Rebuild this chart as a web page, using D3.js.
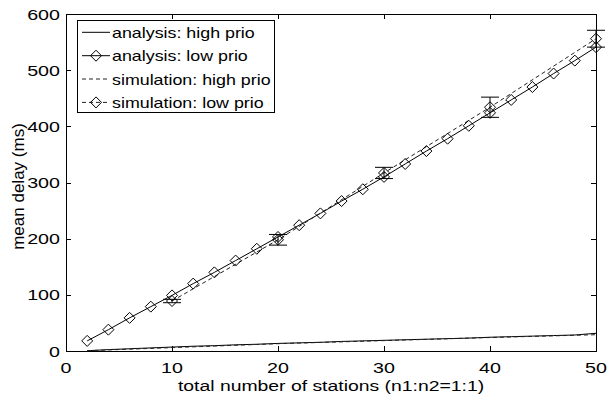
<!DOCTYPE html>
<html><head><meta charset="utf-8">
<script src="https://cdn.jsdelivr.net/npm/d3@7"></script>
<style>body{margin:0;background:#fff}svg{display:block}text{font-family:"Liberation Sans",Arial,sans-serif;fill:#000}</style>
</head><body>
<svg id="c" width="607" height="395"></svg>
<script>
// ---- data ----
const anaLowX = [2,4,6,8,10,12,14,16,18,20,22,24,26,28,30,32,34,36,38,40,42,44,46,48,50];
const anaLowY = [18,38,59,79,99,120,140,161,182,203,224,245,267,288,310,333,356,378,401,424,447,470,494,517,541];
const anaHighX = [2,4,6,8,10,12,14,16,18,20,22,24,26,28,30,32,34,36,38,40,42,44,46,48,50];
const anaHighY = [0.5,2.5,4,5.5,7,8.5,9.5,11,12,13.5,14.5,15.5,17,18,19,20,21,22,23,24.5,25.5,26.5,27.5,28.5,31.5];
const simHighX = [2,10,20,30,40,50];
const simHighY = [0.5,6,13,18.5,24,29];
const simLowX = [10,20,30,40,50];
const simLowY = [89,198,317,434,556];
const simLowErr = [3,9.5,10,18,15];
const xTicks = [0,10,20,30,40,50];
const yTicks = [0,100,200,300,400,500,600];
const legendLabels = ["analysis: high prio","analysis: low prio","simulation: high prio","simulation: low prio"];
const xLabel = "total number of stations (n1:n2=1:1)";
const yLabel = "mean delay (ms)";

(function(){
// ---- layout ----
const L=66,R=596,T=14,B=351;
const svg=d3.select("#c");
const x=d3.scaleLinear().domain([0,50]).range([L,R]);
const y=d3.scaleLinear().domain([0,600]).range([B,T]);
const SX=1.27;

function txt(g,px,py,s,size,anchor,sx){
  return g.append("text").attr("transform",`translate(${px},${py}) scale(${sx},1)`)
   .attr("text-anchor",anchor).style("font-size",size+"px").text(s);
}

// axes with inward ticks
svg.append("g").attr("transform",`translate(0,${B})`)
  .call(d3.axisBottom(x).tickValues(xTicks).tickSize(-5).tickFormat(""));
svg.append("g").attr("transform",`translate(0,${T})`)
  .call(d3.axisTop(x).tickValues(xTicks).tickSize(-5).tickFormat(""));
svg.append("g").attr("transform",`translate(${L},0)`)
  .call(d3.axisLeft(y).tickValues(yTicks).tickSize(-5).tickFormat(""));
svg.append("g").attr("transform",`translate(${R},0)`)
  .call(d3.axisRight(y).tickValues(yTicks).tickSize(-5).tickFormat(""));
svg.selectAll(".domain").remove();
svg.selectAll(".tick line").attr("stroke","#000").attr("shape-rendering","crispEdges");
svg.append("rect").attr("x",L).attr("y",T).attr("width",R-L).attr("height",B-T)
  .attr("fill","none").attr("stroke","#000").attr("shape-rendering","crispEdges");

const tl=svg.append("g");
xTicks.forEach(v=>txt(tl,x(v),372.5,String(v),15.5,"middle",SX));
yTicks.forEach(v=>txt(tl,60,y(v)+5.5,String(v),15.5,"end",SX));
txt(tl,331,390.5,xLabel,15.5,"middle",1.25);
svg.append("text").attr("transform",`translate(24,${(T+B)/2+4}) rotate(-90)`)
  .attr("text-anchor","middle").style("font-size","17px").text(yLabel);

// lines
const line=d3.line().x(d=>x(d[0])).y(d=>y(d[1]));
const plot=svg.append("g");
function series(xs,ys,dash){
  plot.append("path").datum(xs.map((v,i)=>[v,ys[i]])).attr("d",line)
   .attr("fill","none").attr("stroke",dash?"#222":"#000").attr("stroke-width",1)
   .attr("stroke-dasharray",dash?"4,3":null);
}
function diamond(g,cx,cy){
  const h=5.5;
  g.append("path").attr("d",`M${cx},${cy-h}L${cx+h},${cy}L${cx},${cy+h}L${cx-h},${cy}Z`)
   .attr("fill","none").attr("stroke","#000").attr("stroke-width",1);
}
series(anaHighX,anaHighY,false);
series(simHighX,simHighY,true);
series(anaLowX,anaLowY,false);
series(simLowX,simLowY,true);
anaLowX.forEach((v,i)=>diamond(plot,x(v),y(anaLowY[i])));
simLowX.forEach((v,i)=>{
  diamond(plot,x(v),y(simLowY[i]));
  const lo=y(simLowY[i]-simLowErr[i]),hi=y(simLowY[i]+simLowErr[i]),cx=x(v);
  plot.append("path").attr("d",`M${cx},${lo}L${cx},${hi}M${cx-9},${lo}L${cx+9},${lo}M${cx-9},${hi}L${cx+9},${hi}`)
   .attr("stroke","#000").attr("fill","none").attr("stroke-width",1);
});

// legend
const lg=svg.append("g");
lg.append("rect").attr("x",77.5).attr("y",20.5).attr("width",197).attr("height",92)
  .attr("fill","#fff").attr("stroke","#000");
const rowsY=[32.3,55.7,79,102.4];
legendLabels.forEach((s,i)=>{
  const yy=rowsY[i];
  lg.append("line").attr("x1",82).attr("x2",110).attr("y1",yy).attr("y2",yy)
    .attr("stroke",i>=2?"#222":"#000").attr("stroke-dasharray",i>=2?"4,3":null);
  if(i%2===1) diamond(lg,96,yy);
  txt(lg,112,yy+5.5,s,14.5,"start",1.23);
});
})();
</script>
</body></html>
